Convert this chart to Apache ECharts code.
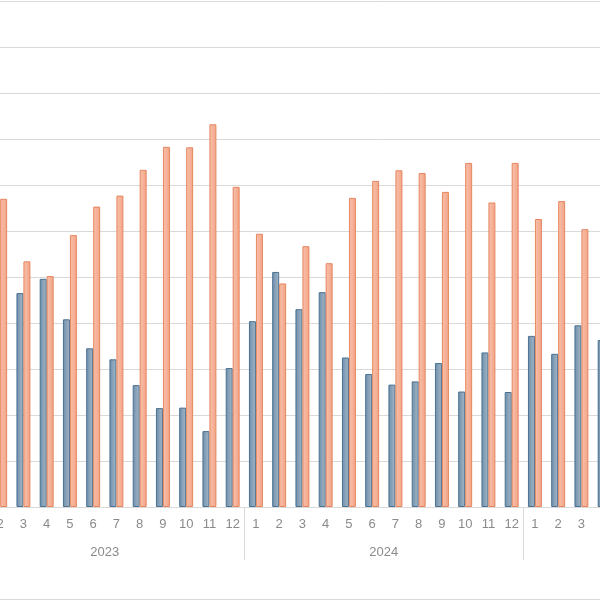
<!DOCTYPE html>
<html>
<head>
<meta charset="utf-8">
<script src="https://cdn.jsdelivr.net/npm/echarts@6/dist/echarts.min.js"></script>
<style>
html,body{margin:0;padding:0;background:#fff;overflow:hidden;width:600px;height:600px;}
#chart{position:absolute;left:-40px;top:0;width:900px;height:600px;}
</style>
</head>
<body>
<div id="chart"></div>
<script>
// Year groups and month categories (2023-01 .. 2025-12)
const years = ['2023', '2024', '2025'];
const months = ['1','2','3','4','5','6','7','8','9','10','11','12'];

// Series values, month by month (null = not visible in the picture)
const seriesBlue = [
  null, null, 46.5, 49.6, 40.8, 34.5, 32.1, 26.5, 21.5, 21.6, 16.5, 30.2,
  40.4, 51.1, 43.0, 46.7, 32.5, 28.9, 26.6, 27.3, 31.3, 25.1, 33.6, 25.0,
  37.2, 33.3, 39.5, 36.3, null, null, null, null, null, null, null, null
];
const seriesOrange = [
  null, 67.0, 53.4, 50.2, 59.1, 65.3, 67.7, 73.3, 78.3, 78.2, 83.2, 69.6,
  59.4, 48.6, 56.7, 53.0, 67.2, 70.9, 73.2, 72.6, 68.5, 74.8, 66.2, 74.8,
  62.6, 66.5, 60.4, null, null, null, null, null, null, null, null, null
];

const categories = [];
years.forEach(y => months.forEach(m => categories.push(y + '-' + m)));

const chart = echarts.init(document.getElementById('chart'));
const labelFont = { color: '#8a8a8a', fontSize: 13, fontFamily: 'Liberation Sans, Arial, sans-serif' };

chart.setOption({
  animation: false,
  backgroundColor: '#ffffff',
  grid: { left: 5.3, top: 1, width: 837, height: 506, containLabel: false },
  xAxis: [
    {
      type: 'category',
      data: categories,
      position: 'bottom',
      axisLine: { show: true, lineStyle: { color: '#d9d9d9', width: 1 } },
      axisTick: { show: false },
      axisLabel: Object.assign({ interval: 0, margin: 11, formatter: v => v.split('-')[1] }, labelFont),
      splitLine: { show: false }
    },
    {
      type: 'category',
      data: years,
      position: 'bottom',
      gridIndex: 0,
      axisLine: { show: false },
      axisTick: { show: true, length: 53, lineStyle: { color: '#d9d9d9', width: 1 } },
      axisLabel: Object.assign({ interval: 0, margin: 39 }, labelFont),
      splitLine: { show: false }
    }
  ],
  yAxis: {
    type: 'value',
    min: 0,
    max: 110,
    interval: 10,
    axisLine: { show: false },
    axisTick: { show: false },
    axisLabel: { show: false },
    splitLine: { show: true, lineStyle: { color: '#d9d9d9', width: 1 } }
  },
  series: [
    {
      name: 'Series 1',
      type: 'bar',
      xAxisIndex: 0,
      data: seriesBlue,
      barGap: '0%',
      barCategoryGap: '40%',
      itemStyle: {
        color: new echarts.graphic.LinearGradient(0, 0, 1, 0, [
          { offset: 0, color: '#6d8eab' },
          { offset: 1, color: '#a6b8c7' }
        ]),
        borderColor: '#4a7191',
        borderWidth: 1
      }
    },
    {
      name: 'Series 2',
      type: 'bar',
      xAxisIndex: 0,
      data: seriesOrange,
      barGap: '0%',
      barCategoryGap: '40%',
      itemStyle: {
        color: new echarts.graphic.LinearGradient(0, 0, 1, 0, [
          { offset: 0, color: '#f8c2ad' },
          { offset: 1, color: '#f3a385' }
        ]),
        borderColor: '#e5865f',
        borderWidth: 1
      }
    }
  ],
  graphic: [
    {
      type: 'line',
      shape: { x1: 0, y1: 599.5, x2: 900, y2: 599.5 },
      style: { stroke: '#d9d9d9', lineWidth: 1 },
      silent: true
    }
  ]
});
</script>
</body>
</html>
